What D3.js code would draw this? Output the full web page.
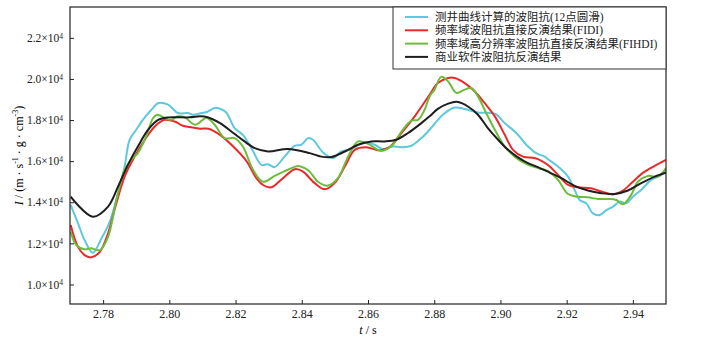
<!DOCTYPE html>
<meta charset="utf-8" />
<title>Impedance inversion comparison</title>
<style>
  body { margin: 0; background: #fff; }
  svg { display: block; font-family: "Liberation Serif", "Noto Sans CJK SC", serif; }
  .frame { fill: none; stroke: #222; stroke-width: 1.2px; }
  .tick line { stroke: #222; }
  .tick text { fill: #222; }
  .curve { fill: none; stroke-width: 2px; stroke-linejoin: round; }
</style>
<svg width="703" height="338"></svg>
<script src="https://cdnjs.cloudflare.com/ajax/libs/d3/7.8.5/d3.min.js"></script>
<script>
const width = 703, height = 338;
const margin = { left: 70, right: 37, top: 7, bottom: 34 };
const serif = '"Liberation Serif", "Noto Sans CJK SC", serif';

// x ticks (s) and y ticks (impedance)
const xTicks = [2.78, 2.80, 2.82, 2.84, 2.86, 2.88, 2.90, 2.92, 2.94];
const yTicks = [10000, 12000, 14000, 16000, 18000, 20000, 22000];

const seriesNames = [
  "测井曲线计算的波阻抗(12点圆滑)",
  "频率域波阻抗直接反演结果(FIDI)",
  "频率域高分辨率波阻抗直接反演结果(FIHDI)",
  "商业软件波阻抗反演结果"
];
const seriesColors = ["#5ec8dc", "#ea2a2a", "#6cbd3c", "#1e1e1e"];

// [t, impedance]
const logCurve = [
  [2.7702, 13870], [2.7724, 12990], [2.7744, 12160], [2.7769, 11540], [2.7795, 12240],
  [2.7820, 13050], [2.7845, 14440], [2.7865, 15740], [2.7880, 17040], [2.7900, 17530],
  [2.7920, 18010], [2.7946, 18500], [2.7967, 18830], [2.7996, 18750], [2.8026, 18340],
  [2.8056, 18340], [2.8072, 18260], [2.8097, 18340], [2.8113, 18390], [2.8137, 18590],
  [2.8153, 18550], [2.8172, 18370], [2.8197, 17610], [2.8222, 17280], [2.8248, 16630],
  [2.8278, 15820], [2.8298, 15850], [2.8318, 15710], [2.8348, 16220], [2.8379, 16750],
  [2.8399, 16800], [2.8419, 17120], [2.8434, 17040], [2.8464, 16420], [2.8494, 16150],
  [2.8519, 16470], [2.8550, 16590], [2.8585, 16910], [2.8620, 16800], [2.8645, 16590],
  [2.8675, 16710], [2.8701, 16680], [2.8731, 16750], [2.8761, 17120], [2.8786, 17530],
  [2.8811, 18010], [2.8832, 18340], [2.8862, 18610], [2.8892, 18540], [2.8932, 18370],
  [2.8983, 18310], [2.9013, 17850], [2.9048, 17370], [2.9078, 16800], [2.9108, 16390],
  [2.9134, 16220], [2.9149, 16030], [2.9174, 15740], [2.9204, 15250], [2.9224, 14600],
  [2.9239, 14110], [2.9259, 13950], [2.9279, 13460], [2.9300, 13380], [2.9320, 13620],
  [2.9340, 13790], [2.9360, 14030], [2.9380, 13950], [2.9400, 14270], [2.9425, 14600],
  [2.9455, 15090], [2.9486, 15330], [2.9500, 15580]
];

const fidi = [
  [2.7702, 12890], [2.7724, 11830], [2.7744, 11430], [2.7764, 11320], [2.7790, 11590],
  [2.7815, 12490], [2.7840, 13950], [2.7865, 15250], [2.7895, 16220], [2.7926, 17040],
  [2.7956, 17690], [2.7986, 18010], [2.8016, 17930], [2.8041, 17720], [2.8062, 17660],
  [2.8093, 17580], [2.8118, 17580], [2.8153, 17280], [2.8193, 16710], [2.8234, 15980],
  [2.8263, 15170], [2.8283, 14840], [2.8308, 14730], [2.8343, 15170], [2.8379, 15610],
  [2.8404, 15490], [2.8424, 15170], [2.8439, 14930], [2.8469, 14630], [2.8499, 14930],
  [2.8530, 15740], [2.8560, 16550], [2.8595, 16680], [2.8635, 16520], [2.8665, 16680],
  [2.8701, 17370], [2.8741, 18180], [2.8786, 19230], [2.8811, 19800], [2.8842, 20050],
  [2.8862, 20050], [2.8892, 19800], [2.8922, 19400], [2.8952, 18830], [2.8983, 18180],
  [2.9013, 17280], [2.9038, 16550], [2.9068, 16220], [2.9103, 16150], [2.9128, 15980],
  [2.9149, 15740], [2.9174, 15330], [2.9204, 14840], [2.9234, 14730], [2.9274, 14680],
  [2.9305, 14520], [2.9340, 14390], [2.9370, 14570], [2.9400, 15000], [2.9431, 15440],
  [2.9466, 15770], [2.9500, 16060]
];

const fihdi = [
  [2.7702, 12570], [2.7719, 11920], [2.7744, 11710], [2.7764, 11760], [2.7790, 11670],
  [2.7815, 12320], [2.7840, 14110], [2.7865, 15580], [2.7885, 16060], [2.7905, 16390],
  [2.7930, 17200], [2.7951, 18100], [2.7964, 18260], [2.7986, 18100], [2.8005, 18010],
  [2.8026, 18180], [2.8046, 18140], [2.8078, 17770], [2.8112, 18100], [2.8137, 17770],
  [2.8167, 17120], [2.8197, 17120], [2.8222, 16710], [2.8253, 15580], [2.8283, 15000],
  [2.8318, 15280], [2.8358, 15580], [2.8389, 15770], [2.8409, 15660], [2.8424, 15490],
  [2.8449, 15000], [2.8479, 14810], [2.8509, 15170], [2.8540, 16220], [2.8570, 16960],
  [2.8600, 16840], [2.8640, 16500], [2.8675, 16800], [2.8701, 17440], [2.8731, 17970],
  [2.8751, 18010], [2.8771, 18500], [2.8786, 19150], [2.8801, 19480], [2.8821, 20100],
  [2.8842, 19880], [2.8867, 19320], [2.8892, 19480], [2.8912, 19560], [2.8932, 19150],
  [2.8957, 18340], [2.8983, 17530], [2.9013, 16710], [2.9043, 16220], [2.9073, 15900],
  [2.9103, 15710], [2.9134, 15580], [2.9149, 15460], [2.9174, 15090], [2.9204, 14400],
  [2.9234, 14270], [2.9264, 14240], [2.9295, 14160], [2.9325, 14160], [2.9350, 14110],
  [2.9370, 13900], [2.9395, 14360], [2.9415, 15000], [2.9446, 15280], [2.9476, 15250],
  [2.9500, 15660]
];

const commercial = [
  [2.7702, 14270], [2.7769, 13300], [2.7815, 13790], [2.7845, 14760], [2.7875, 15820],
  [2.7905, 16710], [2.7936, 17530], [2.7966, 18010], [2.7996, 18130], [2.8061, 18130],
  [2.8093, 18180], [2.8113, 18150], [2.8153, 17850], [2.8193, 17370], [2.8234, 16880],
  [2.8258, 16630], [2.8298, 16470], [2.8358, 16590], [2.8424, 16390], [2.8459, 16220],
  [2.8489, 16200], [2.8530, 16470], [2.8570, 16800], [2.8610, 16960], [2.8650, 16960],
  [2.8685, 17040], [2.8721, 17370], [2.8761, 17850], [2.8786, 18180], [2.8811, 18540],
  [2.8842, 18800], [2.8872, 18880], [2.8902, 18660], [2.8932, 18260], [2.8962, 17610],
  [2.8993, 17040], [2.9023, 16550], [2.9053, 16180], [2.9083, 15900], [2.9113, 15710],
  [2.9149, 15440], [2.9184, 15170], [2.9224, 14800], [2.9264, 14570], [2.9305, 14440],
  [2.9345, 14400], [2.9385, 14570], [2.9425, 14930], [2.9466, 15250], [2.9500, 15440]
];

const allSeries = [logCurve, fidi, fihdi, commercial];

const svg = d3.select("svg");
const x = d3.scaleLinear().domain([2.77, 2.95]).range([margin.left, width - margin.right]);
const y = d3.scaleLinear().domain([9050, 23500]).range([height - margin.bottom, margin.top]);

// curves
const line = d3.line()
  .x(d => x(d[0]))
  .y(d => y(d[1]))
  .curve(d3.curveCatmullRom.alpha(0.5));

svg.append("defs").append("clipPath").attr("id", "clip")
  .append("rect")
  .attr("x", margin.left).attr("y", margin.top)
  .attr("width", width - margin.left - margin.right)
  .attr("height", height - margin.top - margin.bottom);

svg.append("g").attr("clip-path", "url(#clip)")
  .selectAll("path")
  .data(allSeries)
  .enter().append("path")
  .attr("class", "curve")
  .attr("stroke", (d, i) => seriesColors[i])
  .attr("d", line);

// axes, ticks pointing inward
const xAxis = svg.append("g")
  .attr("transform", `translate(0,${height - margin.bottom})`)
  .call(d3.axisBottom(x).tickValues(xTicks).tickSizeInner(-4).tickSizeOuter(0).tickPadding(5)
    .tickFormat(d3.format(".2f")));
xAxis.attr("font-family", serif);
xAxis.select(".domain").remove();
xAxis.selectAll("text").style("font-size", "12px");

const yAxis = svg.append("g")
  .attr("transform", `translate(${margin.left},0)`)
  .call(d3.axisLeft(y).tickValues(yTicks).tickSizeInner(-4).tickSizeOuter(0).tickPadding(7)
    .tickFormat(() => ""));
yAxis.attr("font-family", serif);
yAxis.select(".domain").remove();
yAxis.selectAll(".tick text")
  .style("font-size", "11.5px")
  .each(function (d) {
    const t = d3.select(this);
    t.append("tspan").text((d / 10000).toFixed(1) + "×10");
    t.append("tspan").attr("dy", "-0.45em").style("font-size", "7.5px").text("4");
  });

// plot frame
svg.append("rect")
  .attr("class", "frame")
  .attr("x", margin.left).attr("y", margin.top)
  .attr("width", width - margin.left - margin.right)
  .attr("height", height - margin.top - margin.bottom);

// axis titles
svg.append("text")
  .attr("x", (margin.left + width - margin.right) / 2)
  .attr("y", 334)
  .attr("text-anchor", "middle")
  .style("font-size", "12px")
  .html('<tspan font-style="italic">t</tspan> / s');

svg.append("text")
  .attr("transform", `translate(23,${(margin.top + height - margin.bottom) / 2}) rotate(-90)`)
  .attr("text-anchor", "middle")
  .style("font-size", "12px")
  .html('<tspan font-style="italic">I</tspan> / (m · s<tspan dy="-5" font-size="8">-1</tspan><tspan dy="5"> · g · cm</tspan><tspan dy="-5" font-size="8">-3</tspan><tspan dy="5">)</tspan>');

// legend
const legend = svg.append("g");
legend.append("rect")
  .attr("x", 393).attr("y", margin.top)
  .attr("width", width - margin.right - 393).attr("height", 62)
  .attr("fill", "#fff").attr("stroke", "#333").attr("stroke-width", 1);

const items = legend.selectAll("g.item")
  .data(seriesNames)
  .enter().append("g")
  .attr("class", "item")
  .attr("transform", (d, i) => `translate(405,${17 + i * 13.3})`);

items.append("line")
  .attr("x1", 0).attr("x2", 23)
  .attr("stroke", (d, i) => seriesColors[i])
  .attr("stroke-width", 2);

items.append("text")
  .attr("x", 30).attr("dy", "0.36em")
  .style("font-size", "11.5px")
  .style("fill", "#222")
  .text(d => d);
</script>
